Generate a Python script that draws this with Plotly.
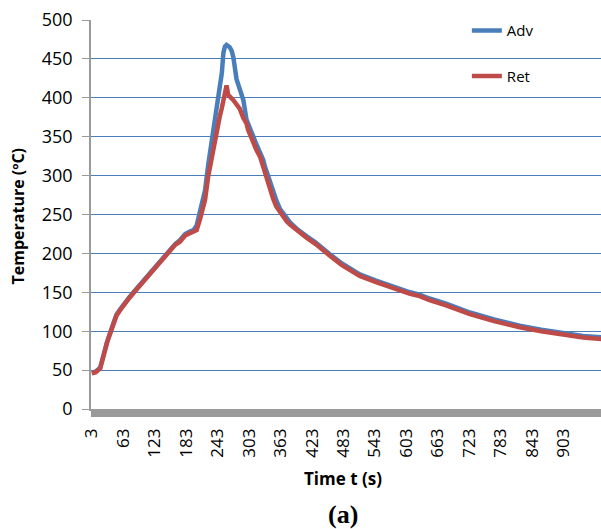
import plotly.graph_objects as go

# Time (s) sample points
times = [3, 10, 19, 25, 32, 38, 44, 50, 57, 66, 75, 85, 95, 105, 115, 124, 133, 143,
         152, 162, 171, 181, 190, 197, 203, 209, 215, 219, 225, 232, 238, 244, 247,
         251, 254, 257, 260, 263, 266, 270, 273, 279, 285, 292, 298, 301, 308, 311,
         317, 324, 330, 333, 339, 343, 349, 355, 362, 375, 381, 395, 406, 413, 430,
         444, 457, 480, 514, 545, 578, 610, 628, 647, 680, 724, 770, 819, 860, 903,
         940, 975]

adv = [47, 48, 53, 71, 86, 98, 111, 121, 128, 137, 144, 152, 160, 167, 175, 182, 191, 199,
       206, 212, 217, 225, 228, 230, 236, 253, 265, 281, 314, 346, 367, 392, 410,
       432, 458, 466, 468, 467, 465, 460, 452, 424, 410, 397, 372, 366, 354, 350,
       340, 330, 320, 312, 299, 292, 278, 268, 257, 244, 240, 231, 225, 222, 214,
       207, 199, 187, 173, 165, 157, 150, 147, 142, 135, 124, 115, 107, 102, 97,
       94, 92]

ret = [46, 47, 52, 70, 85, 97, 110, 120, 127, 136, 143, 151, 159, 166, 174, 181, 190, 198,
       205, 211, 215, 223, 226, 228, 230, 243, 256, 269, 299, 325, 350, 368, 376,
       387, 397, 406, 416, 404, 401, 399, 397, 391, 386, 374, 367, 359, 347, 341,
       333, 324, 310, 303, 290, 281, 270, 260, 253, 241, 237, 229, 223, 220, 212,
       205, 197, 185, 171, 163, 155, 148, 145, 140, 133, 122, 113, 105, 100, 95,
       92, 90]

x_tick_vals = [3, 63, 123, 183, 243, 303, 363, 423, 483, 543, 603, 663, 723, 783, 843, 903]
x_tick_text = [str(v) for v in x_tick_vals]
y_tick_vals = [0, 50, 100, 150, 200, 250, 300, 350, 400, 450, 500]

BLUE = "#4a7ebb"
RED = "#be4b48"
GREY = "#9a9a9a"
FONT = "Open Sans"

fig = go.Figure()
fig.add_trace(go.Scatter(x=times, y=adv, mode="lines", name="Adv",
                         line=dict(color=BLUE, width=4.5), legendgroup="a"))
fig.add_trace(go.Scatter(x=times, y=ret, mode="lines", name="Ret",
                         line=dict(color=RED, width=4.5), legendgroup="b"))

fig.update_layout(
    width=601, height=529,
    margin=dict(l=91, r=0, t=20, b=120, autoexpand=False),
    plot_bgcolor="white", paper_bgcolor="white",
    font=dict(family=FONT, color="black"),
    showlegend=True,
    hovermode=False,
    legend=dict(x=0.737, y=1.015, xanchor="left", yanchor="top",
                bgcolor="rgba(0,0,0,0)", borderwidth=0,
                font=dict(family=FONT, size=15, color="black"),
                tracegroupgap=23),
    xaxis=dict(
        range=[1.5, 974], tickmode="array", tickvals=x_tick_vals, ticktext=x_tick_text,
        tickangle=-90, tickfont=dict(family=FONT, size=17, color="black"),
        ticks="outside", ticklen=6, tickcolor=GREY, tickwidth=1, ticklabelstandoff=5,
        minor=dict(dtick=1, tick0=3, ticks="outside", ticklen=6, tickcolor=GREY, tickwidth=1),
        showgrid=False, zeroline=False, showline=True, linecolor=GREY, linewidth=1.5,
    ),
    yaxis=dict(
        range=[0, 500], tickmode="array", tickvals=y_tick_vals,
        tickfont=dict(family=FONT, size=18, color="black"),
        ticks="outside", ticklen=7, tickcolor=GREY, tickwidth=1, ticklabelstandoff=6,
        showgrid=True, gridcolor=BLUE, gridwidth=1.2,
        zeroline=False, showline=True, linecolor=GREY, linewidth=1.5,
    ),
    annotations=[
        dict(text="<b>Temperature (ºC)</b>", textangle=-90, xref="paper", yref="paper",
             x=-(91 - 17.5) / 510, y=(409 - 216) / 389, xanchor="center", yanchor="middle",
             showarrow=False, font=dict(family=FONT, size=16, color="black")),
        dict(text="<b>Time t (s)</b>", xref="paper", yref="paper",
             x=(343 - 91) / 510, y=-(478 - 409) / 389, xanchor="center", yanchor="middle",
             showarrow=False, font=dict(family=FONT, size=17, color="black")),
        dict(text="<b>(a)</b>", xref="paper", yref="paper",
             x=(343 - 91) / 510, y=-(514 - 409) / 389, xanchor="center", yanchor="middle",
             showarrow=False, font=dict(family="Liberation Serif", size=26, color="black")),
    ],
)

fig.write_html("out.html", config={"displayModeBar": False},
               post_script="document.body.style.margin='0';")
